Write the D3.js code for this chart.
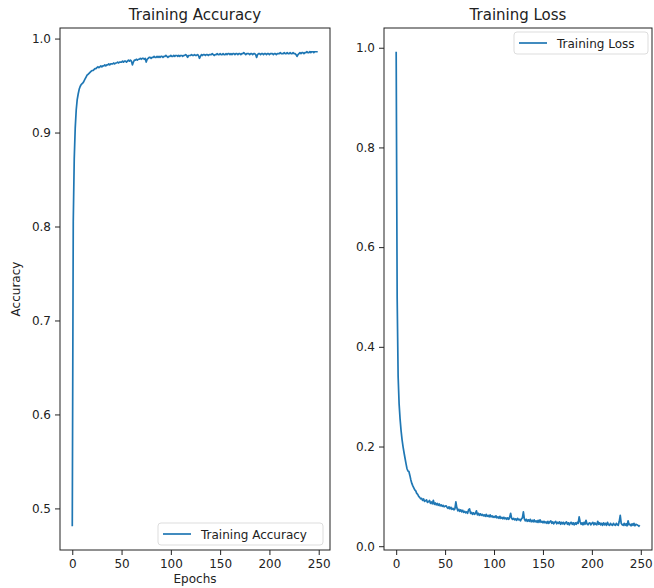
<!DOCTYPE html>
<html>
<head>
<meta charset="utf-8">
<script src="https://cdn.jsdelivr.net/npm/d3@7"></script>
<style>
  body { margin: 0; background: #fff; }
  text { font-family: "DejaVu Sans", sans-serif; fill: #222; }
</style>
</head>
<body>
<svg id="chart" width="654" height="588"></svg>
<script>
// Training accuracy per epoch (0..249)
const accuracy = [
  0.481, 0.805, 0.872, 0.905, 0.924, 0.935, 0.941, 0.946, 0.949, 0.951,
  0.952, 0.953, 0.955, 0.957, 0.959, 0.961, 0.962, 0.963, 0.964, 0.965,
  0.966, 0.966, 0.967, 0.968, 0.968, 0.969, 0.970, 0.969, 0.970, 0.971,
  0.970, 0.971, 0.971, 0.972, 0.971, 0.972, 0.972, 0.973, 0.972, 0.973,
  0.973, 0.973, 0.974, 0.973, 0.974, 0.974, 0.975, 0.974, 0.975, 0.975,
  0.975, 0.976, 0.975, 0.976, 0.976, 0.975, 0.976, 0.977, 0.976, 0.977,
  0.976, 0.972, 0.975, 0.977, 0.977, 0.978, 0.977, 0.978, 0.978, 0.979,
  0.978, 0.979, 0.979, 0.978, 0.979, 0.975, 0.978, 0.979, 0.980, 0.980,
  0.979, 0.980, 0.980, 0.981, 0.980, 0.980, 0.981, 0.980, 0.981, 0.980,
  0.981, 0.981, 0.980, 0.981, 0.981, 0.982, 0.981, 0.980, 0.981, 0.981,
  0.982, 0.981, 0.981, 0.982, 0.981, 0.982, 0.982, 0.981, 0.982, 0.981,
  0.982, 0.982, 0.981, 0.982, 0.982, 0.983, 0.982, 0.980, 0.982, 0.982,
  0.982, 0.983, 0.982, 0.982, 0.983, 0.982, 0.982, 0.983, 0.982, 0.979,
  0.981, 0.983, 0.982, 0.983, 0.983, 0.982, 0.983, 0.983, 0.982, 0.983,
  0.983, 0.983, 0.984, 0.983, 0.982, 0.983, 0.983, 0.984, 0.983, 0.983,
  0.984, 0.983, 0.983, 0.984, 0.983, 0.983, 0.984, 0.983, 0.984, 0.984,
  0.983, 0.984, 0.983, 0.984, 0.984, 0.983, 0.984, 0.984, 0.983, 0.984,
  0.984, 0.983, 0.984, 0.984, 0.985, 0.984, 0.983, 0.984, 0.984, 0.984,
  0.983, 0.984, 0.984, 0.983, 0.984, 0.984, 0.983, 0.980, 0.983, 0.984,
  0.984, 0.983, 0.984, 0.984, 0.983, 0.984, 0.984, 0.983, 0.984, 0.984,
  0.983, 0.984, 0.984, 0.984, 0.983, 0.984, 0.984, 0.983, 0.984, 0.984,
  0.984, 0.985, 0.984, 0.984, 0.984, 0.985, 0.984, 0.984, 0.985, 0.984,
  0.984, 0.985, 0.984, 0.984, 0.985, 0.984, 0.984, 0.983, 0.981, 0.983,
  0.984, 0.985, 0.984, 0.985, 0.985, 0.984, 0.985, 0.985, 0.986, 0.985,
  0.985, 0.986, 0.985, 0.986, 0.986, 0.985, 0.986, 0.986, 0.986, 0.986
];

// Training loss per epoch (0..249)
const loss = [
  0.992, 0.500, 0.340, 0.285, 0.255, 0.232, 0.214, 0.200, 0.188, 0.177,
  0.166, 0.156, 0.151, 0.150, 0.142, 0.133, 0.126, 0.121, 0.117, 0.113,
  0.111, 0.106, 0.104, 0.100, 0.098, 0.095, 0.096, 0.092, 0.095, 0.090,
  0.091, 0.093, 0.088, 0.089, 0.092, 0.086, 0.089, 0.085, 0.092, 0.084,
  0.087, 0.083, 0.086, 0.082, 0.085, 0.081, 0.083, 0.080, 0.082, 0.079,
  0.080, 0.081, 0.078, 0.076, 0.079, 0.075, 0.078, 0.074, 0.076, 0.073,
  0.075, 0.089, 0.077, 0.071, 0.074, 0.070, 0.073, 0.069, 0.072, 0.068,
  0.070, 0.067, 0.069, 0.066, 0.073, 0.075, 0.066, 0.068, 0.064, 0.067,
  0.064, 0.066, 0.071, 0.063, 0.066, 0.062, 0.065, 0.062, 0.064, 0.061,
  0.063, 0.060, 0.064, 0.060, 0.062, 0.059, 0.063, 0.059, 0.061, 0.058,
  0.060, 0.058, 0.061, 0.057, 0.059, 0.056, 0.060, 0.056, 0.058, 0.055,
  0.058, 0.055, 0.057, 0.054, 0.057, 0.054, 0.058, 0.066, 0.056, 0.054,
  0.056, 0.053, 0.055, 0.052, 0.056, 0.053, 0.054, 0.051, 0.055, 0.057,
  0.069, 0.055, 0.051, 0.054, 0.050, 0.053, 0.050, 0.054, 0.049, 0.052,
  0.049, 0.053, 0.049, 0.051, 0.048, 0.052, 0.048, 0.053, 0.048, 0.050,
  0.047, 0.050, 0.047, 0.049, 0.046, 0.050, 0.046, 0.049, 0.051, 0.046,
  0.049, 0.045, 0.048, 0.050, 0.045, 0.048, 0.046, 0.049, 0.044, 0.048,
  0.045, 0.048, 0.044, 0.047, 0.049, 0.044, 0.047, 0.043, 0.047, 0.048,
  0.044, 0.047, 0.043, 0.047, 0.044, 0.048, 0.046, 0.059, 0.049, 0.044,
  0.047, 0.043, 0.048, 0.044, 0.052, 0.045, 0.043, 0.046, 0.047, 0.043,
  0.046, 0.048, 0.043, 0.047, 0.044, 0.043, 0.050, 0.044, 0.047, 0.043,
  0.046, 0.042, 0.047, 0.043, 0.046, 0.042, 0.048, 0.043, 0.042, 0.046,
  0.043, 0.042, 0.046, 0.043, 0.042, 0.046, 0.043, 0.042, 0.050, 0.062,
  0.046, 0.043, 0.042, 0.046, 0.042, 0.045, 0.041, 0.051, 0.043, 0.044,
  0.041, 0.045, 0.042, 0.046, 0.041, 0.044, 0.043, 0.042, 0.040, 0.042
];

const xTicks = [0, 50, 100, 150, 200, 250];
const accTicks = [0.5, 0.6, 0.7, 0.8, 0.9, 1.0];
const lossTicks = [0.0, 0.2, 0.4, 0.6, 0.8, 1.0];

const svg = d3.select("#chart");
const blue = "#1f77b4";

// pad a domain by 5% like matplotlib does
function padded(ext) {
    const m = (ext[1] - ext[0]) * 0.05;
    return [ext[0] - m, ext[1] + m];
}

function drawPanel(opts) {
    const { values, left, right, top, bottom, yTicks, title, legend, legendPos, xLabel, yLabel } = opts;
    const g = svg.append("g");
    const epochs = values.map((d, i) => i);

    const x = d3.scaleLinear().domain(padded(d3.extent(epochs))).range([left, right]);
    const y = d3.scaleLinear().domain(padded(d3.extent(values))).range([bottom, top]);

    const line = d3.line()
        .x((d, i) => x(i))
        .y(d => y(d));

    g.append("path")
        .datum(values)
        .attr("fill", "none")
        .attr("stroke", blue)
        .attr("stroke-width", 1.7)
        .attr("stroke-linejoin", "round")
        .attr("d", line);

    const xAxis = g.append("g")
        .attr("transform", `translate(0,${bottom})`)
        .call(d3.axisBottom(x).tickValues(xTicks).tickSize(5).tickPadding(4).tickFormat(d3.format("d")));
    const yAxis = g.append("g")
        .attr("transform", `translate(${left},0)`)
        .call(d3.axisLeft(y).tickValues(yTicks).tickSize(5).tickPadding(4).tickFormat(d3.format(".1f")));

    [xAxis, yAxis].forEach(a => {
        a.select(".domain").remove();
        a.selectAll("line").attr("stroke", "#222").attr("stroke-width", 1);
        a.selectAll("text").attr("font-size", 12).attr("fill", "#222")
            .attr("font-family", "DejaVu Sans, sans-serif");
    });

    g.append("rect")
        .attr("x", left).attr("y", top)
        .attr("width", right - left).attr("height", bottom - top)
        .attr("fill", "none").attr("stroke", "#222").attr("stroke-width", 1);

    g.append("text")
        .attr("x", (left + right) / 2).attr("y", top - 8)
        .attr("text-anchor", "middle").attr("font-size", 15)
        .text(title);

    if (xLabel) {
        g.append("text")
            .attr("x", (left + right) / 2).attr("y", bottom + 33)
            .attr("text-anchor", "middle").attr("font-size", 12)
            .text(xLabel);
    }
    if (yLabel) {
        g.append("text")
            .attr("transform", `translate(${left - 40},${(top + bottom) / 2}) rotate(-90)`)
            .attr("text-anchor", "middle").attr("font-size", 12)
            .text(yLabel);
    }

    // legend box
    const lg = g.append("g").attr("transform", `translate(${legendPos[0]},${legendPos[1]})`);
    lg.append("rect")
        .attr("width", legendPos[2]).attr("height", 22).attr("rx", 3)
        .attr("fill", "#fff").attr("fill-opacity", 0.8)
        .attr("stroke", "#ddd").attr("stroke-width", 1);
    lg.append("line")
        .attr("x1", 5).attr("x2", 33).attr("y1", 11).attr("y2", 11)
        .attr("stroke", blue).attr("stroke-width", 1.7);
    lg.append("text")
        .attr("x", 43).attr("y", 15.5).attr("font-size", 12)
        .text(legend);
}

drawPanel({
    values: accuracy, left: 60, right: 330, top: 28, bottom: 550,
    yTicks: accTicks, title: "Training Accuracy", legend: "Training Accuracy",
    legendPos: [158, 523, 165], xLabel: "Epochs", yLabel: "Accuracy"
});

drawPanel({
    values: loss, left: 384, right: 652, top: 28, bottom: 550,
    yTicks: lossTicks, title: "Training Loss", legend: "Training Loss",
    legendPos: [514, 32, 134]
});
</script>
</body>
</html>
